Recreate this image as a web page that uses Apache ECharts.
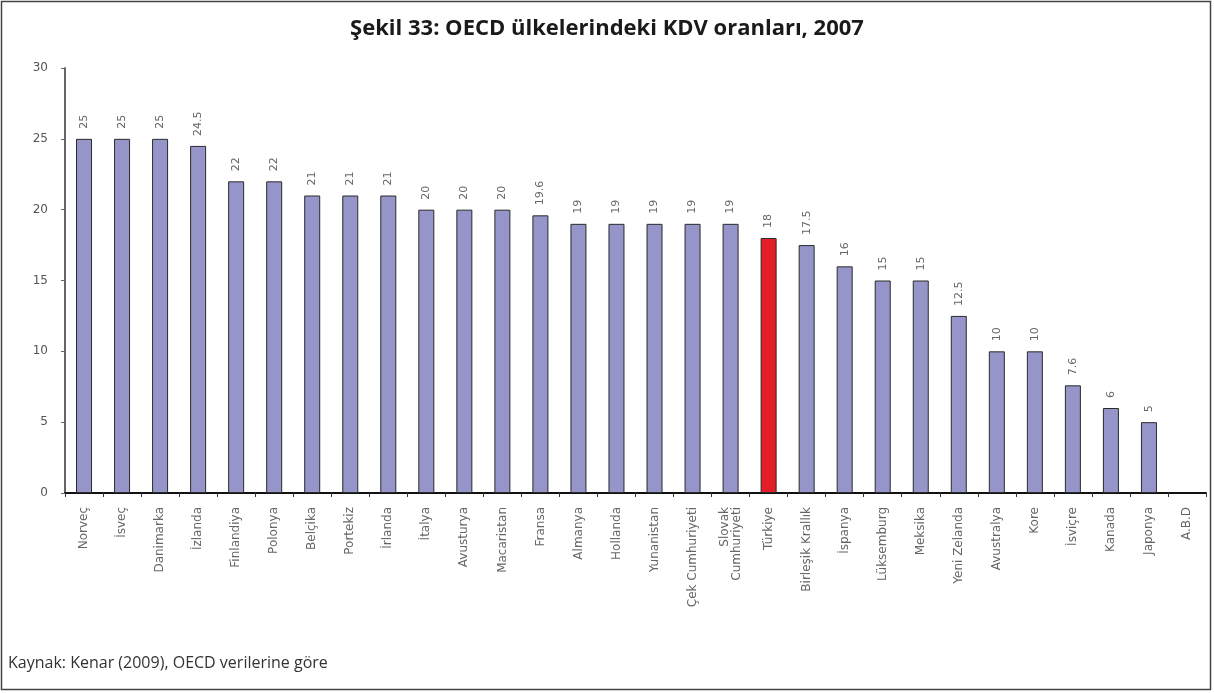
<!DOCTYPE html>
<html>
<head>
<meta charset="utf-8">
<script src="https://cdn.jsdelivr.net/npm/echarts@6/dist/echarts.min.js"></script>
<style>
html,body{margin:0;padding:0;background:#fff;}
#chart{width:1214px;height:693px;}
</style>
</head>
<body>
<div id="chart"></div>
<script>
const titleText = 'Şekil 33: OECD ülkelerindeki KDV oranları, 2007';
const sourceText = 'Kaynak: Kenar (2009), OECD verilerine göre';
const categories = ['Norveç','İsveç','Danimarka','İzlanda','Finlandiya','Polonya','Belçika','Portekiz','İrlanda','İtalya','Avusturya','Macaristan','Fransa','Almanya','Hollanda','Yunanistan','Çek Cumhuriyeti','Slovak\nCumhuriyeti','Türkiye','Birleşik Krallık','İspanya','Lüksemburg','Meksika','Yeni Zelanda','Avustralya','Kore','İsviçre','Kanada','Japonya','A.B.D'];
const values = [25,25,25,24.5,22,22,21,21,21,20,20,20,19.6,19,19,19,19,19,18,17.5,16,15,15,12.5,10,10,7.6,6,5,null];
const highlighted = 'Türkiye';
const yTicks = [0,5,10,15,20,25,30];

const chart = echarts.init(document.getElementById('chart'), null, {renderer:'canvas'});
chart.setOption({
  backgroundColor:'#fff',
  animation:false,
  title:{
    text:titleText,
    left:'center',
    top:13,
    textStyle:{fontFamily:'Open Sans',fontWeight:'bold',fontSize:22,color:'#1a1a1a'}
  },
  graphic:[
    {type:'rect',shape:{x:1.5,y:1.5,width:1209,height:688},style:{fill:'none',stroke:'#444',lineWidth:1.5},silent:true},
    {type:'text',left:8,top:655,style:{text:sourceText,font:'16px "Open Sans"',fill:'#333'}}
  ],
  grid:{left:65,right:8,top:68,bottom:200,containLabel:false},
  xAxis:{
    type:'category',
    data:categories,
    axisLine:{lineStyle:{color:'#111',width:2}},
    axisTick:{show:true,length:4,lineStyle:{color:'#333'}},
    axisLabel:{rotate:90,interval:0,margin:14,color:'#666',fontFamily:'DejaVu Sans',fontSize:12,lineHeight:12}
  },
  yAxis:{
    type:'value',
    min:yTicks[0],max:yTicks[yTicks.length-1],interval:5,
    splitLine:{show:false},
    axisLine:{show:true,lineStyle:{color:'#666',width:2}},
    axisTick:{show:true,length:4,lineStyle:{color:'#666'}},
    axisLabel:{color:'#555',fontFamily:'DejaVu Sans',fontSize:12,margin:17}
  },
  series:[{
    type:'bar',
    data:values,
    barWidth:16,
    itemStyle:{
      color:function(p){return categories[p.dataIndex]===highlighted?'#e41e26':'#9595ca';},
      borderColor:'#2a2a2a',borderWidth:1
    },
    label:{
      show:true,position:'top',rotate:90,align:'left',verticalAlign:'middle',distance:10,
      color:'#666',fontFamily:'DejaVu Sans',fontSize:11,
      formatter:function(p){return p.value==null?'':String(p.value);}
    }
  }]
});
</script>
</body>
</html>
